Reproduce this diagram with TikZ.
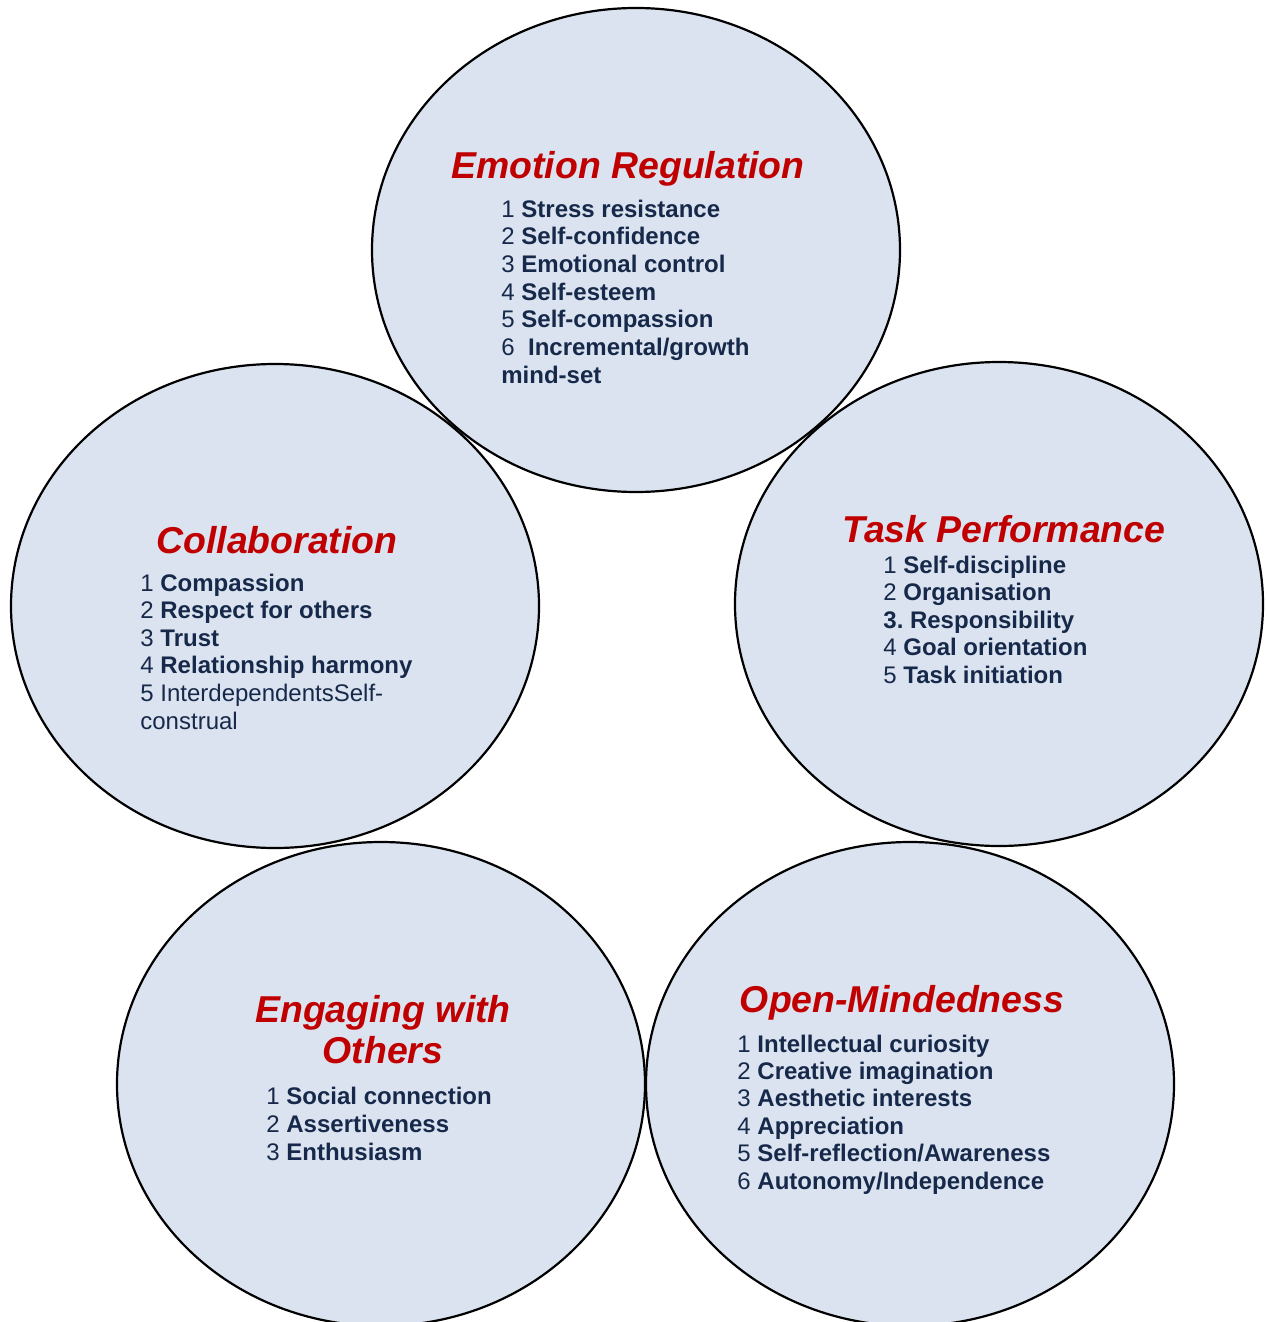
\documentclass[tikz,border=0pt]{standalone}
\usepackage{fontspec}
\setmainfont{Liberation Sans}
\usetikzlibrary{shapes.geometric}
\definecolor{bubblefill}{HTML}{DAE3EF}
\definecolor{titlered}{HTML}{C00000}
\definecolor{itemnavy}{HTML}{17294A}

\tikzset{
  bubble/.style={ellipse, draw=black, line width=1.1pt, fill=bubblefill,
    minimum width=264pt, minimum height=242pt, inner sep=0pt},
  heading/.style={anchor=base, inner sep=0pt, text=titlered,
    font=\fontsize{18.7}{22}\selectfont\bfseries\itshape},
  entry/.style={anchor=base west, inner sep=0pt, text=itemnavy,
    font=\fontsize{12}{14}\selectfont}
}

\begin{document}
\frenchspacing
\begin{tikzpicture}[x=0.5pt,y=-0.5pt]
\useasboundingbox (0,0) rectangle (1266,1322);

% the five bubbles
\node[bubble] (emotion) at (636,250) {};
\node[bubble] (collab) at (275,606) {};
\node[bubble] (task) at (999,604) {};
\node[bubble] (engage) at (381,1084) {};
\node[bubble] (open) at (910,1084) {};

% Emotion Regulation
\node[heading] (emotion-title) at (628,178) {Emotion Regulation};
\foreach \t [count=\i] in {{1 \textbf{Stress resistance}},{2 \textbf{Self-confidence}},
  {3 \textbf{Emotional control}},{4 \textbf{Self-esteem}},{5 \textbf{Self-compassion}},
  {6 \ \textbf{Incremental/growth}},{\textbf{mind-set}}}
  \node[entry] (emotion-\i) at (501,{217+(\i-1)*27.7}) {\t};

% Collaboration
\node[heading] (collab-title) at (277,553) {Collaboration};
\foreach \t [count=\i] in {{1 \textbf{Compassion}},{2 \textbf{Respect for others}},
  {3 \textbf{Trust}},{4 \textbf{Relationship harmony}},{5 InterdependentsSelf-},{construal}}
  \node[entry] (collab-\i) at (140,{591+(\i-1)*27.6}) {\t};

% Task Performance
\node[heading] (task-title) at (1004,542) {Task Performance};
\foreach \t [count=\i] in {{1 \textbf{Self-discipline}},{2 \textbf{Organisation}},
  {\textbf{3. Responsibility}},{4 \textbf{Goal orientation}},{5 \textbf{Task initiation}}}
  \node[entry] (task-\i) at (883,{573+(\i-1)*27.65}) {\t};

% Engaging with Others
\node[heading] (engage-title) at (383,1022) {Engaging with};
\node[heading] (engage-title2) at (383,1063) {Others};
\foreach \t [count=\i] in {{1 \textbf{Social connection}},{2 \textbf{Assertiveness}},
  {3 \textbf{Enthusiasm}}}
  \node[entry] (engage-\i) at (266,{1104+(\i-1)*28}) {\t};

% Open-Mindedness
\node[heading] (open-title) at (902,1012) {Open-Mindedness};
\foreach \t [count=\i] in {{1 \textbf{Intellectual curiosity}},{2 \textbf{Creative imagination}},
  {3 \textbf{Aesthetic interests}},{4 \textbf{Appreciation}},
  {5 \textbf{Self-reflection/Awareness}},{6 \textbf{Autonomy/Independence}}}
  \node[entry] (open-\i) at (737,{1052+(\i-1)*27.46}) {\t};
\end{tikzpicture}
\end{document}
